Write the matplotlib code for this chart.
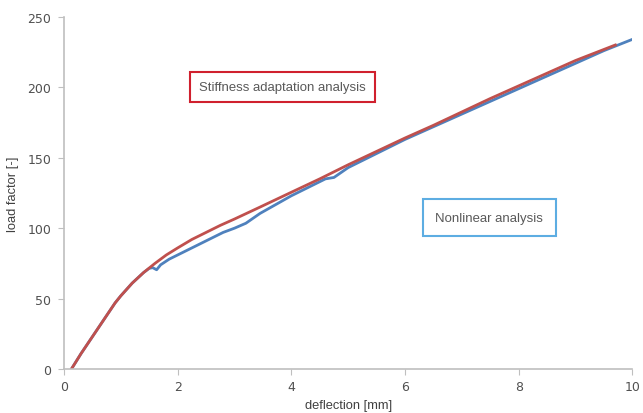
import matplotlib
matplotlib.use('Agg')
import matplotlib.pyplot as plt

# stiffness adaptation analysis (red)
red_x = [0.13, 0.3, 0.5, 0.7, 0.9, 1.0, 1.2, 1.4, 1.6, 1.8, 2.0, 2.25, 2.5, 2.75, 3.0, 3.45, 4.0, 4.5, 5.0,
         5.5, 6.0, 6.5, 7.0, 7.5, 8.0, 8.5, 9.0, 9.7]
red_y = [0, 11, 23, 35, 47, 52, 61, 68.5, 75, 81, 86, 92, 97, 102, 106.5, 115, 125.5, 135, 145,
         154.5, 164, 173, 182.5, 192, 201, 210, 219, 230]

# nonlinear analysis (blue)
blue_x = [0.13, 0.3, 0.5, 0.7, 0.9, 1.0, 1.2, 1.4, 1.5, 1.56, 1.63, 1.7, 1.85, 2.0, 2.5, 2.8, 3.0, 3.2, 3.45,
          4.0, 4.5, 4.6, 4.75, 5.0, 5.5, 6.0, 6.5, 7.0, 7.5, 8.0, 8.5, 9.0, 9.5, 10.0]
blue_y = [0, 11, 23, 35, 47, 52, 61, 68.5, 71.5, 72, 70.5, 74, 78, 81, 91, 97, 100, 103.5, 110.5,
          123, 133, 135, 136, 143, 153, 163, 172, 181, 190, 199, 208, 217, 226, 234]

xticks = [0, 2, 4, 6, 8, 10]
yticks = [0, 50, 100, 150, 200, 250]

fig = plt.figure(figsize=(6.43, 4.14), dpi=100)
ax = fig.add_axes([0.0995, 0.106, 0.884, 0.851])

ax.plot(blue_x, blue_y, color='#4f81bd', lw=2)
ax.plot(red_x, red_y, color='#c0504d', lw=2)

ax.set_xlim(0, 10)
ax.set_ylim(0, 250)
ax.set_xticks(xticks)
ax.set_yticks(yticks)
for s in ['top', 'right']:
    ax.spines[s].set_visible(False)
for s in ['left', 'bottom']:
    ax.spines[s].set_color('#bfbfbf')
    ax.spines[s].set_linewidth(1.2)
ax.tick_params(colors='#bfbfbf', length=4, labelcolor='#505050', labelsize=9)
ax.tick_params(axis='y', pad=5)

ax.set_xlabel('deflection [mm]', fontsize=9.3, color='#404040', labelpad=5, family='Liberation Sans')
ax.set_ylabel('load factor [-]', fontsize=9.3, color='#404040', family='Liberation Sans', va='center')
ax.yaxis.set_label_coords(-0.09, 0.5)

ax.text(3.84, 200, 'Stiffness adaptation analysis', ha='center', va='center', fontsize=9.45,
        color='#595959', family='Liberation Sans',
        bbox=dict(boxstyle='square,pad=0.7', fc='white', ec='#d0202e', lw=1.5))
ax.text(7.48, 107.5, 'Nonlinear analysis', ha='center', va='center', fontsize=9.45,
        color='#595959', family='Liberation Sans',
        bbox=dict(boxstyle='square,pad=0.95', fc='white', ec='#5dade2', lw=1.5))

fig.savefig('out.png', dpi=100)
